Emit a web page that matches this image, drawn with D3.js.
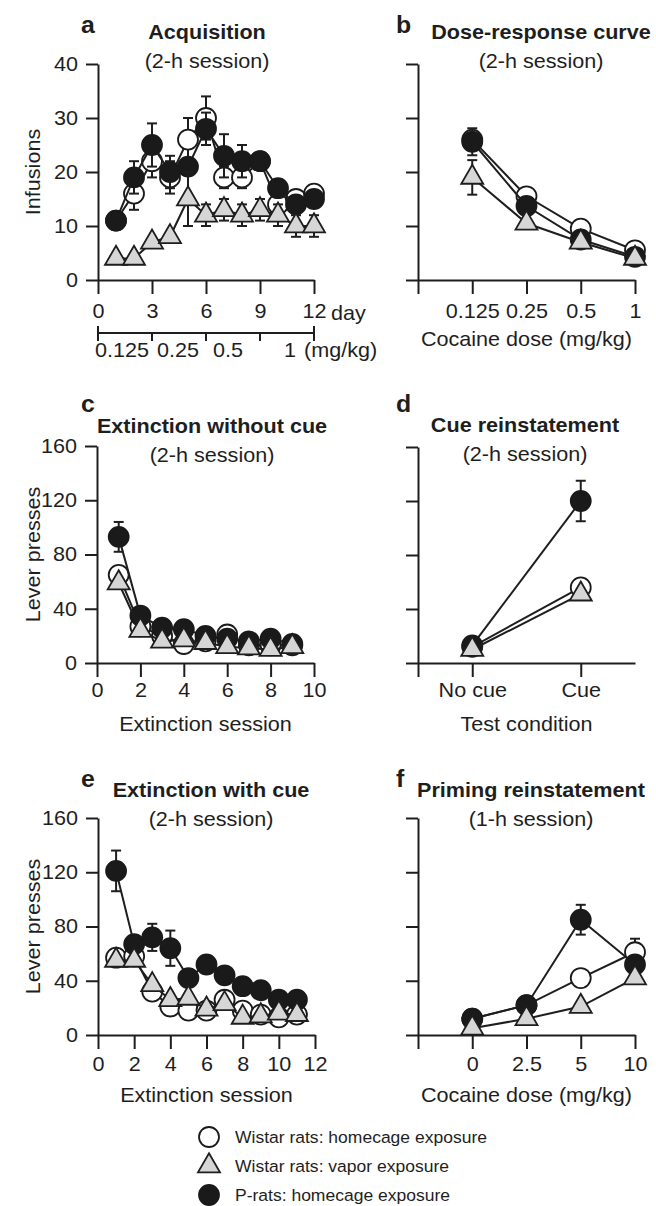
<!DOCTYPE html>
<html>
<head>
<meta charset="utf-8">
<script src="https://cdn.jsdelivr.net/npm/d3@7"></script>
<style>
  body { margin: 0; background: #fff; }
  svg text { font-family: "Liberation Sans", Arial, Helvetica, sans-serif; fill: #1e1e1e; }
</style>
</head>
<body>
<svg id="chart" width="656" height="1206"></svg>
<script>

// a: acquisition, infusions per day
var acqDays = [1,2,3,4,5,6,7,8,9,10,11,12];
var acqHome = [11,16,22,19,26,30,19,19,22,14,15,16];
var acqHomeErr = [0,3,3,3,4,4,2,2,0,0,0,0];
var acqPRats = [11,19,25,20,21,28,23,22,22,17,14,15];
var acqPRatsErr = [0,3,4,3,0,3,4,3,1,0,0,0];
var acqVapor = [4,4,7,8,15,12,13,12,13,12,10,10];
var acqVaporErr = [0,0,0,0,5,2,2,2,2,2,2,2];
var acqDoseLabels = ["0.125","0.25","0.5","1"];
var acqDoseAt = [1.33, 4.44, 7.22, 10.67];   // label spots, in days

// b: dose-response
var doseLabels = ["0.125","0.25","0.5","1"];
var doseHome = [26,15.5,9.5,5.5];
var dosePRats = [25.6,13.7,7.5,4.3];
var dosePRatsErr = [2.5,0,0,0];
var doseVapor = [19,10.5,7,4];
var doseVaporErr = [3.2,0,0,0];

// c: extinction without cue
var extSessions = [1,2,3,4,5,6,7,8,9];
var extHome = [65,27,20,14,16,21,13,13,13];
var extPRats = [93,35,26,25,20,18,16,18,14];
var extPRatsErr = [11,0,0,0,0,0,0,0,0];
var extVapor = [59,24,16,17,15,12,11,10,12];

// d: cue reinstatement
var cueLabels = ["No cue","Cue"];
var cueHome = [12,56];
var cueHomeErr = [0,4];
var cuePRats = [13,120];
var cuePRatsErr = [0,15];
var cueVapor = [10,51];

// e: extinction with cue
var extCueSessions = [1,2,3,4,5,6,7,8,9,10,11];
var extCueHome = [57,58,32,21,18,18,26,18,15,13,15];
var extCuePRats = [121,67,72,64,42,52,44,36,33,26,26];
var extCuePRatsErr = [15,0,10,13,0,0,0,0,0,0,0];
var extCueVapor = [55,55,37,26,27,19,23,13,14,16,15];

// f: priming reinstatement
var primeLabels = ["0","2.5","5","10"];
var primeHome = [12,22,42,61];
var primeHomeErr = [0,0,0,10];
var primePRats = [12,22,85,52];
var primePRatsErr = [0,0,11,0];
var primeVapor = [5,12,21,42];

var legendLabels = ["Wistar rats: homecage exposure","Wistar rats: vapor exposure","P-rats: homecage exposure"];


var SX = 1.08;   // the source font runs a bit wider than liberation sans
var FS = 20;
var svg = d3.select("#chart");

var label = function(g, x, y, txt, opts) {
  opts = opts || {};
  var sx = opts.sx || SX;
  var t = g.append("text")
    .attr("transform", "translate(" + x + "," + y + ")" + (opts.rotate ? " rotate(-90)" : "") + " scale(" + sx + ",1)")
    .attr("text-anchor", opts.anchor || "middle")
    .attr("font-size", opts.size || FS)
    .text(txt);
  if (opts.bold) t.attr("font-weight", "bold");
  return t;
};

var styleAxis = function(ax) {
  ax.attr("font-size", null).attr("font-family", null);
  ax.selectAll("path.domain").attr("stroke", "#1e1e1e").attr("stroke-width", 2);
  ax.selectAll(".tick line").attr("stroke", "#1e1e1e").attr("stroke-width", 2);
  ax.selectAll(".tick text").each(function() {
    var t = d3.select(this);
    var x0 = +t.attr("x") || 0;
    t.attr("x", x0 / SX).attr("transform", "scale(" + SX + ",1)").attr("font-size", FS);
  });
};

var zip = function(xs, ys, es) {
  return xs.map(function(x, i) { return {x: x, y: ys[i], e: es ? es[i] : 0}; });
};

var drawSeries = function(g, x, y, pts, kind) {
  var sg = g.append("g");
  sg.append("path")
    .attr("d", d3.line().x(function(d) { return x(d.x); }).y(function(d) { return y(d.y); })(pts))
    .attr("fill", "none").attr("stroke", "#1e1e1e").attr("stroke-width", 2);

  var eb = sg.selectAll("g.err").data(pts.filter(function(d) { return d.e > 0; }))
    .enter().append("g").attr("class", "err");
  eb.append("line")
    .attr("x1", function(d) { return x(d.x); }).attr("x2", function(d) { return x(d.x); })
    .attr("y1", function(d) { return y(d.y - d.e); }).attr("y2", function(d) { return y(d.y + d.e); });
  eb.append("line")
    .attr("x1", function(d) { return x(d.x) - 5; }).attr("x2", function(d) { return x(d.x) + 5; })
    .attr("y1", function(d) { return y(d.y + d.e); }).attr("y2", function(d) { return y(d.y + d.e); });
  eb.append("line")
    .attr("x1", function(d) { return x(d.x) - 5; }).attr("x2", function(d) { return x(d.x) + 5; })
    .attr("y1", function(d) { return y(d.y - d.e); }).attr("y2", function(d) { return y(d.y - d.e); });
  eb.selectAll("line").attr("stroke", "#1e1e1e").attr("stroke-width", 2);

  marker(sg, pts.map(function(d) { return [x(d.x), y(d.y)]; }), kind);
};

var marker = function(g, xy, kind) {
  if (kind == "tri") {
    g.selectAll("path.mk").data(xy).enter().append("path").attr("class", "mk")
      .attr("d", d3.symbol(d3.symbolTriangle, 210))
      .attr("transform", function(d) { return "translate(" + d[0] + "," + d[1] + ")"; })
      .attr("fill", "#d6d6d6").attr("stroke", "#1e1e1e").attr("stroke-width", 1.8);
  } else {
    g.selectAll("circle.mk").data(xy).enter().append("circle").attr("class", "mk")
      .attr("cx", function(d) { return d[0]; }).attr("cy", function(d) { return d[1]; })
      .attr("r", 10)
      .attr("fill", kind == "black" ? "#1a1a1a" : "#fff").attr("stroke", "#1a1a1a").attr("stroke-width", 1.8);
  }
};

var panel = function(o) {
  var g = svg.append("g");
  var x = d3.scaleLinear().domain(o.xDomain).range([o.left, o.right]);
  var y = d3.scaleLinear().domain(o.yDomain).range([o.bottom, o.top]);

  var ya = d3.axisLeft(y).tickValues(o.yTicks).tickSize(12).tickSizeOuter(0).tickPadding(8);
  if (!o.yLabels) ya.tickFormat("");
  var yg = g.append("g").attr("transform", "translate(" + o.left + ",0)").call(ya);
  styleAxis(yg);

  var xa = d3.axisBottom(x).tickValues(o.xTicks).tickSize(14).tickSizeOuter(0).tickPadding(o.xPad || 10);
  if (o.xFormat) xa.tickFormat(o.xFormat);
  var xg = g.append("g").attr("transform", "translate(0," + o.bottom + ")").call(xa);
  styleAxis(xg);

  // open circles first, black on top, triangles on top of both
  o.series.forEach(function(s) { drawSeries(g, x, y, s.pts, s.kind); });

  label(g, o.letterX, o.letterY, o.letter, {anchor: "start", bold: true, size: 23});
  label(g, o.titleX, o.titleY, o.title, {bold: true});
  label(g, o.titleX, o.titleY + 29, o.subtitle);
  if (o.xTitle) label(g, (o.left + o.right) / 2, o.xTitleY, o.xTitle);
  if (o.yTitle) label(g, 40, (o.top + o.bottom) / 2, o.yTitle, {rotate: true});
  return {g: g, x: x, y: y};
};

var pos = function(arr) { return arr.map(function(d, i) { return i + 1; }); };

// a
var pa = panel({
  left: 98, right: 314, top: 64, bottom: 280,
  xDomain: [0, 12], xTicks: [0, 3, 6, 9, 12],
  yDomain: [0, 40], yTicks: [0, 10, 20, 30, 40], yLabels: true,
  letter: "a", letterX: 81, letterY: 33,
  title: "Acquisition", subtitle: "(2-h session)", titleX: 207, titleY: 39,
  yTitle: "Infusions",
  series: [
    {pts: zip(acqDays, acqHome, acqHomeErr), kind: "open"},
    {pts: zip(acqDays, acqPRats, acqPRatsErr), kind: "black"},
    {pts: zip(acqDays, acqVapor, acqVaporErr), kind: "tri"}
  ]
});
label(pa.g, 331, 320, "day", {anchor: "start"});

// second axis under a: dose given on each block of days
var dg = pa.g.append("g").attr("transform", "translate(0,333)");
dg.append("line").attr("x1", pa.x(0)).attr("x2", pa.x(12)).attr("y1", 0).attr("y2", 0);
dg.selectAll("line.tk").data([0, 3, 6, 9, 12]).enter().append("line").attr("class", "tk")
  .attr("x1", function(d) { return pa.x(d); }).attr("x2", function(d) { return pa.x(d); })
  .attr("y1", function(d) { return (d == 0 || d == 12) ? -7 : 0; }).attr("y2", 8);
dg.selectAll("line").attr("stroke", "#1e1e1e").attr("stroke-width", 2);
acqDoseLabels.forEach(function(t, i) {
  label(dg, pa.x(acqDoseAt[i]), 24, t);
});
label(dg, 304, 24, "(mg/kg)", {anchor: "start"});

// b
panel({
  left: 418, right: 635, top: 64, bottom: 280,
  xDomain: [0, 4], xTicks: [0, 1, 2, 3, 4], xFormat: function(d) { return d == 0 ? "" : doseLabels[d - 1]; },
  yDomain: [0, 40], yTicks: [0, 10, 20, 30, 40], yLabels: false,
  letter: "b", letterX: 396, letterY: 33,
  title: "Dose-response curve", subtitle: "(2-h session)", titleX: 541, titleY: 39,
  xTitle: "Cocaine dose (mg/kg)", xTitleY: 346,
  series: [
    {pts: zip(pos(doseLabels), doseHome), kind: "open"},
    {pts: zip(pos(doseLabels), dosePRats, dosePRatsErr), kind: "black"},
    {pts: zip(pos(doseLabels), doseVapor, doseVaporErr), kind: "tri"}
  ]
});

// c
panel({
  left: 97, right: 314, top: 446, bottom: 663,
  xDomain: [0, 10], xTicks: [0, 2, 4, 6, 8, 10], xPad: 6,
  yDomain: [0, 160], yTicks: [0, 40, 80, 120, 160], yLabels: true,
  letter: "c", letterX: 81, letterY: 412,
  title: "Extinction without cue", subtitle: "(2-h session)", titleX: 212, titleY: 433,
  xTitle: "Extinction session", xTitleY: 731, yTitle: "Lever presses",
  series: [
    {pts: zip(extSessions, extHome), kind: "open"},
    {pts: zip(extSessions, extPRats, extPRatsErr), kind: "black"},
    {pts: zip(extSessions, extVapor), kind: "tri"}
  ]
});

// d
panel({
  left: 418, right: 635, top: 447, bottom: 663,
  xDomain: [0, 4], xTicks: [0, 1, 3], xPad: 6,
  xFormat: function(d) { return d == 0 ? "" : cueLabels[(d - 1) / 2]; },
  yDomain: [0, 160], yTicks: [0, 40, 80, 120, 160], yLabels: false,
  letter: "d", letterX: 396, letterY: 412,
  title: "Cue reinstatement", subtitle: "(2-h session)", titleX: 525, titleY: 432,
  xTitle: "Test condition", xTitleY: 731,
  series: [
    {pts: zip([1, 3], cueHome, cueHomeErr), kind: "open"},
    {pts: zip([1, 3], cuePRats, cuePRatsErr), kind: "black"},
    {pts: zip([1, 3], cueVapor), kind: "tri"}
  ]
});

// e
panel({
  left: 98, right: 315, top: 818, bottom: 1035,
  xDomain: [0, 12], xTicks: [0, 2, 4, 6, 8, 10, 12], xPad: 8,
  yDomain: [0, 160], yTicks: [0, 40, 80, 120, 160], yLabels: true,
  letter: "e", letterX: 81, letterY: 787,
  title: "Extinction with cue", subtitle: "(2-h session)", titleX: 211, titleY: 797,
  xTitle: "Extinction session", xTitleY: 1102, yTitle: "Lever presses",
  series: [
    {pts: zip(extCueSessions, extCueHome), kind: "open"},
    {pts: zip(extCueSessions, extCuePRats, extCuePRatsErr), kind: "black"},
    {pts: zip(extCueSessions, extCueVapor), kind: "tri"}
  ]
});

// f
panel({
  left: 418, right: 635, top: 818, bottom: 1035,
  xDomain: [0, 4], xTicks: [0, 1, 2, 3, 4], xPad: 8,
  xFormat: function(d) { return d == 0 ? "" : primeLabels[d - 1]; },
  yDomain: [0, 160], yTicks: [0, 40, 80, 120, 160], yLabels: false,
  letter: "f", letterX: 396, letterY: 787,
  title: "Priming reinstatement", subtitle: "(1-h session)", titleX: 531, titleY: 797,
  xTitle: "Cocaine dose (mg/kg)", xTitleY: 1102,
  series: [
    {pts: zip(pos(primeLabels), primeHome, primeHomeErr), kind: "open"},
    {pts: zip(pos(primeLabels), primePRats, primePRatsErr), kind: "black"},
    {pts: zip(pos(primeLabels), primeVapor), kind: "tri"}
  ]
});

// legend
var lg = svg.append("g").attr("transform", "translate(209,1137)");
var kinds = ["open", "tri", "black"];
legendLabels.forEach(function(t, i) {
  var row = lg.append("g").attr("transform", "translate(0," + (i * 29) + ")");
  marker(row, [[0, 0]], kinds[i]);
  label(row, 26, 6, t, {anchor: "start", size: 17, sx: 1.03});
});

</script>
</body>
</html>
